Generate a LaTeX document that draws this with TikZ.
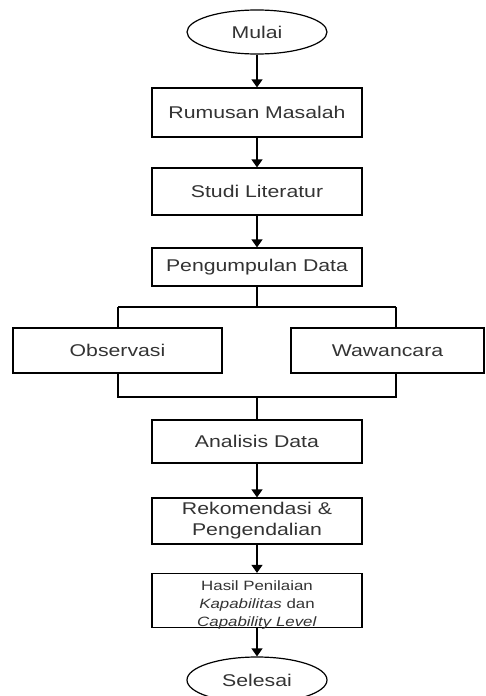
\documentclass[tikz,border=0pt]{standalone}
\usepackage{fontspec}
\setmainfont[FakeStretch=1.25]{Liberation Sans}
\usetikzlibrary{arrows.meta,shapes.geometric}
\definecolor{txt}{rgb}{0.2,0.2,0.2}
\begin{document}
\begin{tikzpicture}[x=1pt,y=-1pt,
  base/.style={draw=black,line width=1.2pt,text=txt,font=\fontsize{17}{21}\selectfont,inner sep=0pt,align=center},
  term/.style={base,ellipse,minimum width=140pt,minimum height=44pt},
  proc/.style={base,rectangle,minimum width=210pt},
  conn/.style={draw=black,line width=1.2pt},
  arr/.style={conn,-{Triangle[width=11pt,length=8pt]}}
]
\useasboundingbox (0,0) rectangle (486,696);
\clip (0,0) rectangle (486,696);
\node[term] (mulai) at (257,32) {Mulai};
\node[proc,minimum height=49pt] (rm) at (257,112.5) {Rumusan Masalah};
\node[proc,minimum height=47pt] (sl) at (257,191.5) {Studi Literatur};
\node[proc,minimum height=38pt] (pd) at (257,267) {Pengumpulan Data};
\node[base,minimum width=209pt,minimum height=45pt] (obs) at (117.5,350.5) {Observasi};
\node[base,minimum width=193pt,minimum height=45pt] (waw) at (387.5,350.5) {Wawancara};
\node[proc,minimum height=43pt] (ad) at (257,441.5) {Analisis Data};
\node[proc,minimum height=46pt] (rk) at (257,521) {Rekomendasi \&\\Pengendalian};
\node[proc,minimum height=45pt,font=\fontsize{13.5}{18}\selectfont] (hs) at (257,600.5) {\raisebox{-4pt}[\height][\depth]{\begin{tabular}{@{}c@{}}Hasil Penilaian\\\textit{Kapabilitas} dan\\\textit{Capability Level}\end{tabular}}};
\node[term,minimum height=46pt] (sel) at (257,680) {Selesai};

\coordinate (jt) at (257,307);
\coordinate (tl) at (118,307);
\coordinate (tr) at (396,307);
\coordinate (jb) at (257,397);
\coordinate (bl) at (118,397);
\coordinate (br) at (396,397);

\draw[arr] (mulai) -- (rm);
\draw[arr] (rm) -- (sl);
\draw[arr] (sl) -- (pd);
\draw[conn] (pd) -- (jt);
\draw[conn] (tl) -- (tr);
\draw[conn] (tl) -- (tl |- obs.north);
\draw[conn] (tr) -- (tr |- waw.north);
\draw[conn] (bl |- obs.south) -- (bl) -- (br) -- (br |- waw.south);
\draw[conn] (jb) -- (ad);
\draw[arr] (ad) -- (rk);
\draw[arr] (rk) -- (hs);
\draw[arr] (hs) -- (sel);
\end{tikzpicture}
\end{document}
